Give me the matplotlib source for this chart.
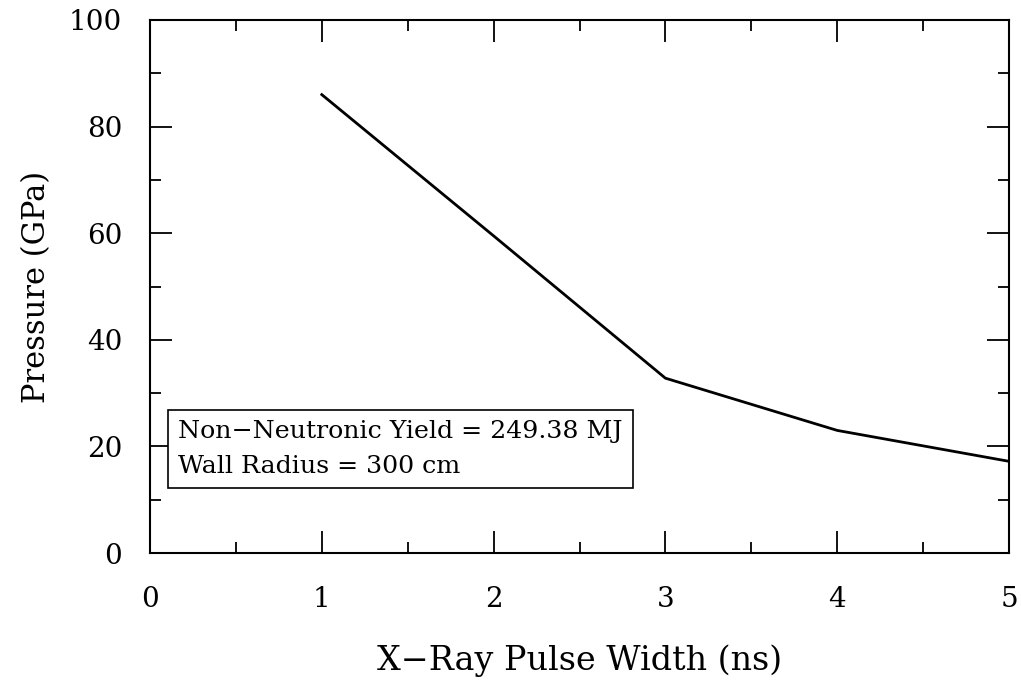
import numpy as np
from matplotlib import pyplot as plt
from matplotlib.ticker import MultipleLocator

# pulse width (ns) vs peak pressure (GPa)
pulse_width = [1, 2, 3, 4, 5]
pressure = [86, 59.5, 32.8, 23.0, 17.2]

yield_text = "Non\u2212Neutronic Yield = 249.38 MJ"
radius_text = "Wall Radius = 300 cm"

plt.rcParams['font.family'] = ['DejaVu Serif']

fig = plt.figure(figsize=(10.21, 6.87), dpi=100)
ax = fig.add_axes([150 / 1021, 1 - 553 / 687, (1009 - 150) / 1021, (553 - 20) / 687])

ax.plot(pulse_width, pressure, color='black', lw=2.0)

ax.set_xlim(0, 5)
ax.set_ylim(0, 100)
ax.xaxis.set_major_locator(MultipleLocator(1))
ax.xaxis.set_minor_locator(MultipleLocator(0.5))
ax.yaxis.set_major_locator(MultipleLocator(20))
ax.yaxis.set_minor_locator(MultipleLocator(10))
ax.tick_params(which='both', direction='in', top=True, right=True, width=1.3)
ax.tick_params(which='major', length=16, labelsize=20, pad=20)
ax.tick_params(which='minor', length=8)
ax.tick_params(axis='x', which='major', pad=24)
for s in ax.spines.values():
    s.set_linewidth(1.5)

ax.set_xlabel("X\u2212Ray Pulse Width (ns)", fontsize=24, labelpad=22)
ax.set_ylabel("Pressure (GPa)", fontsize=22, labelpad=12)

ax.text(0.033, 0.195, yield_text + "\n" + radius_text, transform=ax.transAxes,
        fontsize=18.2, va='center', ha='left', linespacing=1.65,
        bbox=dict(boxstyle='square,pad=0.4', fc='white', ec='black', lw=1.2))

fig.savefig('out.png', dpi=100)
